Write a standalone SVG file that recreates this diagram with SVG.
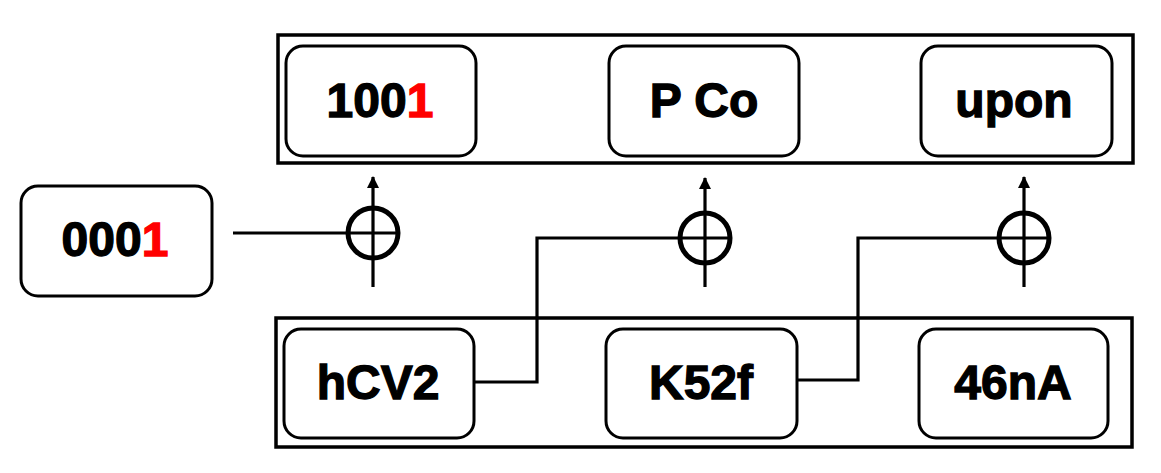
<svg xmlns="http://www.w3.org/2000/svg" width="1161" height="473" viewBox="0 0 1161 473">
<style>
.outer{fill:none;stroke:#000;stroke-width:3.5}
.node{fill:#fff;stroke:#000;stroke-width:3}
.lbl{font-family:"Liberation Sans",Arial,sans-serif;font-weight:bold;font-size:48px;fill:#000;stroke:#000;stroke-width:1.3;text-anchor:middle}
.red{fill:#ff0000;stroke:#ff0000}
.wire{fill:none;stroke:#000;stroke-width:3.2}
.xor{fill:none;stroke:#000;stroke-width:5}
</style>
<defs>
<marker id="arr" viewBox="0 0 12 12" refX="11" refY="6" markerWidth="12" markerHeight="12" markerUnits="userSpaceOnUse" orient="auto">
<path d="M0,0 L12,6 L0,12 Z" fill="#000"/>
</marker>
</defs>
<rect class="outer" x="278" y="35" width="855" height="128"/>
<rect class="outer" x="276" y="318" width="856" height="129"/>
<g id="n1001"><rect class="node" x="286" y="46" width="190" height="110" rx="17"/><text class="lbl" x="380" y="117">100<tspan class="red">1</tspan></text></g>
<g id="nPCo"><rect class="node" x="609" y="46" width="190" height="110" rx="17"/><text class="lbl" x="704" y="117">P Co</text></g>
<g id="nupon"><rect class="node" x="921" y="46" width="191" height="110" rx="17"/><text class="lbl" x="1014" y="117">upon</text></g>
<g id="n0001"><rect class="node" x="21" y="186" width="191" height="110" rx="17"/><text class="lbl" x="115" y="256">000<tspan class="red">1</tspan></text></g>
<g id="nhCV2"><rect class="node" x="284" y="329" width="190" height="109" rx="17"/><text class="lbl" x="378" y="399">hCV2</text></g>
<g id="nK52f"><rect class="node" x="606" y="329" width="191" height="109" rx="17"/><text class="lbl" x="701" y="399">K52f</text></g>
<g id="n46nA"><rect class="node" x="919" y="329" width="189" height="109" rx="17"/><text class="lbl" x="1013" y="399">46nA</text></g>
<g id="connectors">
<circle class="xor" cx="373" cy="233" r="25"/>
<circle class="xor" cx="705" cy="238" r="25"/>
<circle class="xor" cx="1024" cy="238" r="25"/>
<path class="wire" d="M233,233 H398"/>
<path class="wire" d="M474,382 H537 V238 H730"/>
<path class="wire" d="M797,380 H858 V238 H1049"/>
<path class="wire" d="M373,287 V177" marker-end="url(#arr)"/>
<path class="wire" d="M705,287 V178" marker-end="url(#arr)"/>
<path class="wire" d="M1024,287 V177" marker-end="url(#arr)"/>
</g>
</svg>
